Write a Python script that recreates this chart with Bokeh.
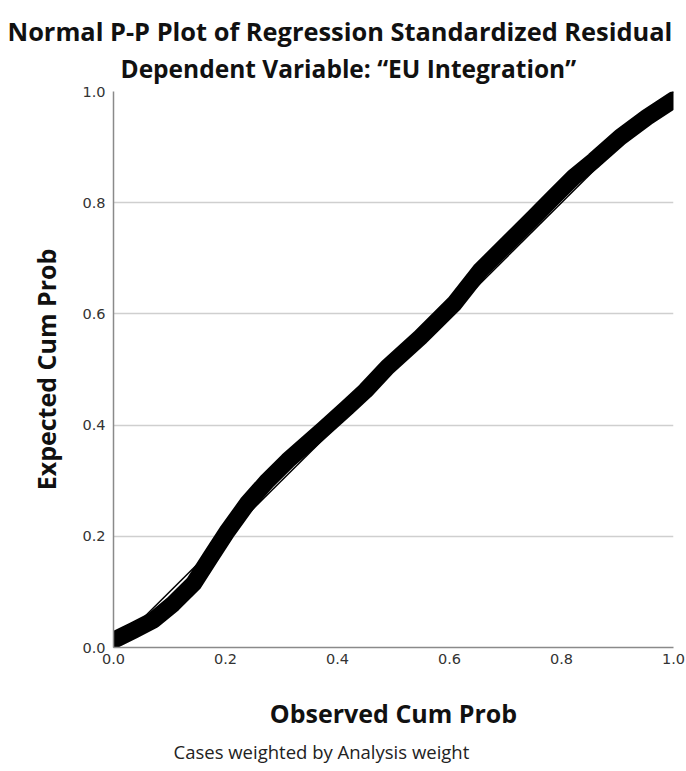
from bokeh.plotting import figure
from bokeh.models import Title, FixedTicker, ColumnDataSource, NumeralTickFormatter
from bokeh.embed import file_html
from bokeh.resources import INLINE

# Observed vs expected cumulative probabilities
observed = [0.0, 0.036, 0.071, 0.107, 0.143, 0.173, 0.204, 0.239, 0.275, 0.311,
            0.346, 0.375, 0.418, 0.45, 0.489, 0.548, 0.608, 0.655, 0.703, 0.751,
            0.786, 0.822, 0.858, 0.905, 0.953, 1.0]
expected = [0.013, 0.031, 0.049, 0.079, 0.115, 0.162, 0.210, 0.259, 0.300, 0.336,
            0.367, 0.393, 0.432, 0.462, 0.504, 0.558, 0.618, 0.678, 0.726, 0.774,
            0.810, 0.846, 0.876, 0.918, 0.954, 0.985]
ref_x = [0.0, 1.0]
ref_y = [0.0, 1.0]
ticks = [0.0, 0.2, 0.4, 0.6, 0.8, 1.0]

TITLE_FONT = "Open Sans"
TICK_FONT = "DejaVu Sans"

p = figure(frame_width=560, frame_height=556, x_range=(0, 1), y_range=(0, 1),
           output_backend="svg", toolbar_location=None,
           min_border_left=113, min_border_right=13, min_border_top=91,
           min_border_bottom=112)
p.outline_line_color = None
p.background_fill_color = "white"
p.border_fill_color = "white"

# Titles (first added sits closest to the plot); left-aligned with an offset
p.add_layout(Title(text="Dependent Variable: \u201cEU Integration\u201d", align="left",
                   text_font=TITLE_FONT, text_font_size="24.5px", text_font_style="bold",
                   text_color="#111111", standoff=14, offset=7), "above")
p.add_layout(Title(text="Normal P-P Plot of Regression Standardized Residual", align="left",
                   text_font=TITLE_FONT, text_font_size="25.4px", text_font_style="bold",
                   text_color="#111111", standoff=-10, offset=-106), "above")
p.add_layout(Title(text="Cases weighted by Analysis weight", align="left",
                   text_font=TITLE_FONT, text_font_size="18.5px", text_font_style="normal",
                   text_color="#222222", standoff=8, offset=60), "below")

for ax in (p.xaxis[0], p.yaxis[0]):
    ax.ticker = FixedTicker(ticks=ticks)
    ax.formatter = NumeralTickFormatter(format="0.0")
    ax.axis_line_color = "#8a8a8a"
    ax.axis_line_width = 1.5
    ax.major_tick_in = 0
    ax.major_tick_out = 0
    ax.minor_tick_line_color = None
    ax.major_label_text_font = TICK_FONT
    ax.major_label_text_font_size = "14.5px"
    ax.major_label_text_color = "#333333"
    ax.axis_label_text_font = TITLE_FONT
    ax.axis_label_text_font_size = "25px"
    ax.axis_label_text_font_style = "bold"
    ax.axis_label_text_color = "#111111"

p.xaxis.axis_label = "Observed Cum Prob"
p.yaxis.axis_label = "Expected Cum Prob"
p.xaxis.major_label_standoff = 6
p.yaxis.major_label_standoff = 8
p.xaxis.axis_label_standoff = 29
p.yaxis.axis_label_standoff = 16

p.xgrid.grid_line_color = None
p.ygrid.grid_line_color = "#cfcfcf"
p.ygrid.grid_line_width = 1.5

src = ColumnDataSource(dict(x=observed, y=expected))
p.line(ref_x, ref_y, line_color="black", line_width=1.5)
p.line("x", "y", source=src, line_color="black", line_width=17,
       line_join="round", line_cap="round")

open("out.html", "w").write(file_html(p, INLINE))
